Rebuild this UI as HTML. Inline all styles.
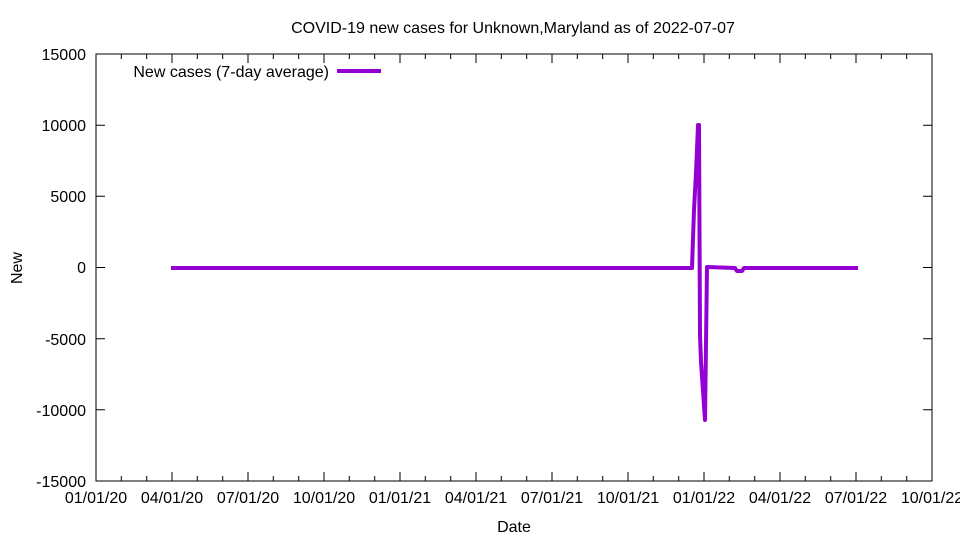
<!DOCTYPE html>
<html><head><style>body{margin:0;background:#fff}svg{display:block}text{font-family:"Liberation Sans",sans-serif;font-size:16px;fill:#000}</style></head><body>
<svg width="960" height="540" xmlns="http://www.w3.org/2000/svg">
<rect x="96" y="54" width="836" height="427" fill="none" stroke="#000" stroke-width="1"/>
<path stroke="#000" stroke-width="1" fill="none" d="
M96,481v-9M96,54v9M121.3,481v-5M121.3,54v5M146.7,481v-5M146.7,54v5M172,481v-9M172,54v9M197.3,481v-5M197.3,54v5M222.7,481v-5M222.7,54v5M248,481v-9M248,54v9M273.3,481v-5M273.3,54v5M298.7,481v-5M298.7,54v5M324,481v-9M324,54v9M349.3,481v-5M349.3,54v5M374.7,481v-5M374.7,54v5M400,481v-9M400,54v9M425.3,481v-5M425.3,54v5M450.7,481v-5M450.7,54v5M476,481v-9M476,54v9M501.3,481v-5M501.3,54v5M526.7,481v-5M526.7,54v5M552,481v-9M552,54v9M577.3,481v-5M577.3,54v5M602.7,481v-5M602.7,54v5M628,481v-9M628,54v9M653.3,481v-5M653.3,54v5M678.7,481v-5M678.7,54v5M704,481v-9M704,54v9M729.3,481v-5M729.3,54v5M754.7,481v-5M754.7,54v5M780,481v-9M780,54v9M805.3,481v-5M805.3,54v5M830.7,481v-5M830.7,54v5M856,481v-9M856,54v9M881.3,481v-5M881.3,54v5M906.7,481v-5M906.7,54v5
M96,125.2h9M932,125.2h-9M96,196.3h9M932,196.3h-9M96,267.5h9M932,267.5h-9M96,338.7h9M932,338.7h-9M96,409.8h9M932,409.8h-9"/>
<text x="513" y="33" text-anchor="middle">COVID-19 new cases for Unknown,Maryland as of 2022-07-07</text>
<g text-anchor="end">
<text x="86" y="60">15000</text><text x="86" y="131">10000</text><text x="86" y="202">5000</text><text x="86" y="273">0</text><text x="86" y="345">-5000</text><text x="86" y="416">-10000</text><text x="86" y="487">-15000</text>
</g>
<g text-anchor="middle">
<text x="96" y="503">01/01/20</text><text x="172" y="503">04/01/20</text><text x="248" y="503">07/01/20</text><text x="324" y="503">10/01/20</text><text x="400" y="503">01/01/21</text><text x="476" y="503">04/01/21</text><text x="552" y="503">07/01/21</text><text x="628" y="503">10/01/21</text><text x="704" y="503">01/01/22</text><text x="780" y="503">04/01/22</text><text x="856" y="503">07/01/22</text><text x="932" y="503">10/01/22</text>
</g>
<text x="514" y="532" text-anchor="middle">Date</text>
<text x="22" y="268" text-anchor="middle" transform="rotate(-90 22 268)">New</text>
<text x="329" y="77" text-anchor="end">New cases (7-day average)</text>
<line x1="337" y1="71" x2="381" y2="71" stroke="#9400d3" stroke-width="4"/>
<polyline fill="none" stroke="#9400d3" stroke-width="4" stroke-linejoin="round" points="171,268 692,268 694,210 696,173 698,125 699,125 700,335 701,362 705,420 707,267 735,268 737,271 742,271 744,268 858,268"/>
</svg>
</body></html>
